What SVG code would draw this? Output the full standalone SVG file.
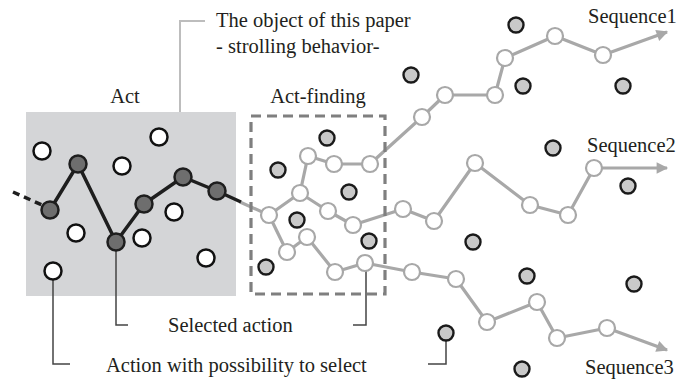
<svg xmlns="http://www.w3.org/2000/svg" width="678" height="381" viewBox="0 0 678 381">
<defs>
<style>
.t{font-family:"Liberation Serif","Times New Roman",serif;font-size:20.5px;fill:#231f20}
.sel{fill:#6e6e6e;stroke:#1e1e1e;stroke-width:2.5}
.cand{fill:#fff;stroke:#111;stroke-width:2.5}
.oth{fill:#c9c9c9;stroke:#1a1a1a;stroke-width:2.4}
.seq{fill:#fff;stroke:#a8a8a8;stroke-width:2.2}
.gp{fill:none;stroke:#a8a8a8;stroke-width:3.2;stroke-linejoin:round}
.bp{fill:none;stroke:#1e1e1e;stroke-width:3.5;stroke-linejoin:round}
.call{fill:none;stroke:#444;stroke-width:1.5}
</style>
<marker id="ah" viewBox="0 0 10 10" refX="9" refY="5" markerWidth="5" markerHeight="3.6" orient="auto" markerUnits="strokeWidth">
<path d="M0,0 L10,5 L0,10 z" fill="#a8a8a8"/>
</marker>
</defs>
<rect width="678" height="381" fill="#fff"/>

<g id="act-panel">
<rect x="26" y="112" width="210" height="184" fill="#d4d5d7"/>
<text class="t" x="125" y="103" text-anchor="middle">Act</text>
</g>

<g id="object-label">
<polyline points="180,112 180,21 205,21" fill="none" stroke="#bdbdbd" stroke-width="2"/>
<text class="t" x="216" y="27">The object of this paper</text>
<text class="t" x="216" y="53">- strolling behavior-</text>
</g>

<g id="connectors">
<path class="gp" d="M240,202 L269,215"/>
<path class="gp" d="M269,215 L300,193 L308,156 L334,164 L370,164 L422,117 L445,95 L495,95 L505,58 L555,36 L603,55 L667,32" marker-end="url(#ah)"/>
<path class="gp" d="M300,193 L328,211 L353,225 L403,209 L434,221 L475,163 L530,205 L568,215 L594,168 L667,168" marker-end="url(#ah)"/>
<path class="gp" d="M269,215 L287,252 L307,237 L335,272 L365,263 L412,272 L456,279 L487,322 L537,302 L557,338 L607,328 L667,350" marker-end="url(#ah)"/>
<path d="M13,192 L42,205" fill="none" stroke="#1e1e1e" stroke-width="3.5" stroke-dasharray="7 5"/>
<path class="bp" d="M50,210 L78,164 L116,242 L144,204 L183,177 L217,191 L241,202"/>
<polyline class="call" points="116,248 116,325 128,325"/>
<polyline class="call" points="53,279 53,364 70,364"/>
<polyline class="call" points="366,270 366,325 353,325"/>
<polyline class="call" points="446,340 446,364 428,364"/>
</g>

<g id="act-finding">
<rect x="251" y="116" width="134" height="178" fill="none" stroke="#7f7f7f" stroke-width="3.2" stroke-dasharray="10 6"/>
<text class="t" x="318" y="103" text-anchor="middle">Act-finding</text>
</g>

<g id="selected-actions">
<circle class="sel" cx="50" cy="210" r="8.5"/>
<circle class="sel" cx="78" cy="164" r="8.5"/>
<circle class="sel" cx="116" cy="242" r="8.5"/>
<circle class="sel" cx="144" cy="204" r="8.5"/>
<circle class="sel" cx="183" cy="177" r="8.5"/>
<circle class="sel" cx="217" cy="191" r="8.5"/>
</g>

<g id="candidate-actions">
<circle class="cand" cx="42" cy="151" r="8.5"/>
<circle class="cand" cx="159" cy="137" r="8.5"/>
<circle class="cand" cx="122" cy="166" r="8.5"/>
<circle class="cand" cx="76" cy="233" r="8.5"/>
<circle class="cand" cx="174" cy="212" r="8.5"/>
<circle class="cand" cx="142" cy="238" r="8.5"/>
<circle class="cand" cx="206" cy="258" r="8.5"/>
<circle class="cand" cx="53" cy="271" r="8.5"/>
</g>

<g id="sequence-nodes">
<circle class="seq" cx="269" cy="215" r="8"/>
<circle class="seq" cx="300" cy="193" r="8"/>
<circle class="seq" cx="308" cy="156" r="8"/>
<circle class="seq" cx="334" cy="164" r="8"/>
<circle class="seq" cx="370" cy="164" r="8"/>
<circle class="seq" cx="422" cy="117" r="8"/>
<circle class="seq" cx="445" cy="95" r="8"/>
<circle class="seq" cx="495" cy="95" r="8"/>
<circle class="seq" cx="505" cy="58" r="8"/>
<circle class="seq" cx="555" cy="36" r="8"/>
<circle class="seq" cx="603" cy="55" r="8"/>
<circle class="seq" cx="328" cy="211" r="8"/>
<circle class="seq" cx="353" cy="225" r="8"/>
<circle class="seq" cx="403" cy="209" r="8"/>
<circle class="seq" cx="434" cy="221" r="8"/>
<circle class="seq" cx="475" cy="163" r="8"/>
<circle class="seq" cx="530" cy="205" r="8"/>
<circle class="seq" cx="568" cy="215" r="8"/>
<circle class="seq" cx="594" cy="168" r="8"/>
<circle class="seq" cx="287" cy="252" r="8"/>
<circle class="seq" cx="307" cy="237" r="8"/>
<circle class="seq" cx="335" cy="272" r="8"/>
<circle class="seq" cx="365" cy="263" r="8"/>
<circle class="seq" cx="412" cy="272" r="8"/>
<circle class="seq" cx="456" cy="279" r="8"/>
<circle class="seq" cx="487" cy="322" r="8"/>
<circle class="seq" cx="537" cy="302" r="8"/>
<circle class="seq" cx="557" cy="338" r="8"/>
<circle class="seq" cx="607" cy="328" r="8"/>
</g>

<g id="other-actions">
<circle class="oth" cx="327" cy="138" r="7.5"/>
<circle class="oth" cx="278" cy="170" r="7.5"/>
<circle class="oth" cx="349" cy="192" r="7.5"/>
<circle class="oth" cx="297" cy="220" r="7.5"/>
<circle class="oth" cx="369" cy="241" r="7.5"/>
<circle class="oth" cx="266" cy="267" r="7.5"/>
<circle class="oth" cx="516" cy="25" r="7.5"/>
<circle class="oth" cx="411" cy="75" r="7.5"/>
<circle class="oth" cx="523" cy="86" r="7.5"/>
<circle class="oth" cx="623" cy="86" r="7.5"/>
<circle class="oth" cx="553" cy="148" r="7.5"/>
<circle class="oth" cx="628" cy="186" r="7.5"/>
<circle class="oth" cx="473" cy="242" r="7.5"/>
<circle class="oth" cx="527" cy="276" r="7.5"/>
<circle class="oth" cx="634" cy="284" r="7.5"/>
<circle class="oth" cx="446" cy="333" r="7.5"/>
<circle class="oth" cx="522" cy="369" r="7.5"/>
</g>

<g id="labels">
<text class="t" x="588" y="23">Sequence1</text>
<text class="t" x="587" y="152">Sequence2</text>
<text class="t" x="585" y="374">Sequence3</text>
<text class="t" x="168" y="332">Selected action</text>
<text class="t" x="106" y="372">Action with possibility to select</text>
</g>
</svg>
